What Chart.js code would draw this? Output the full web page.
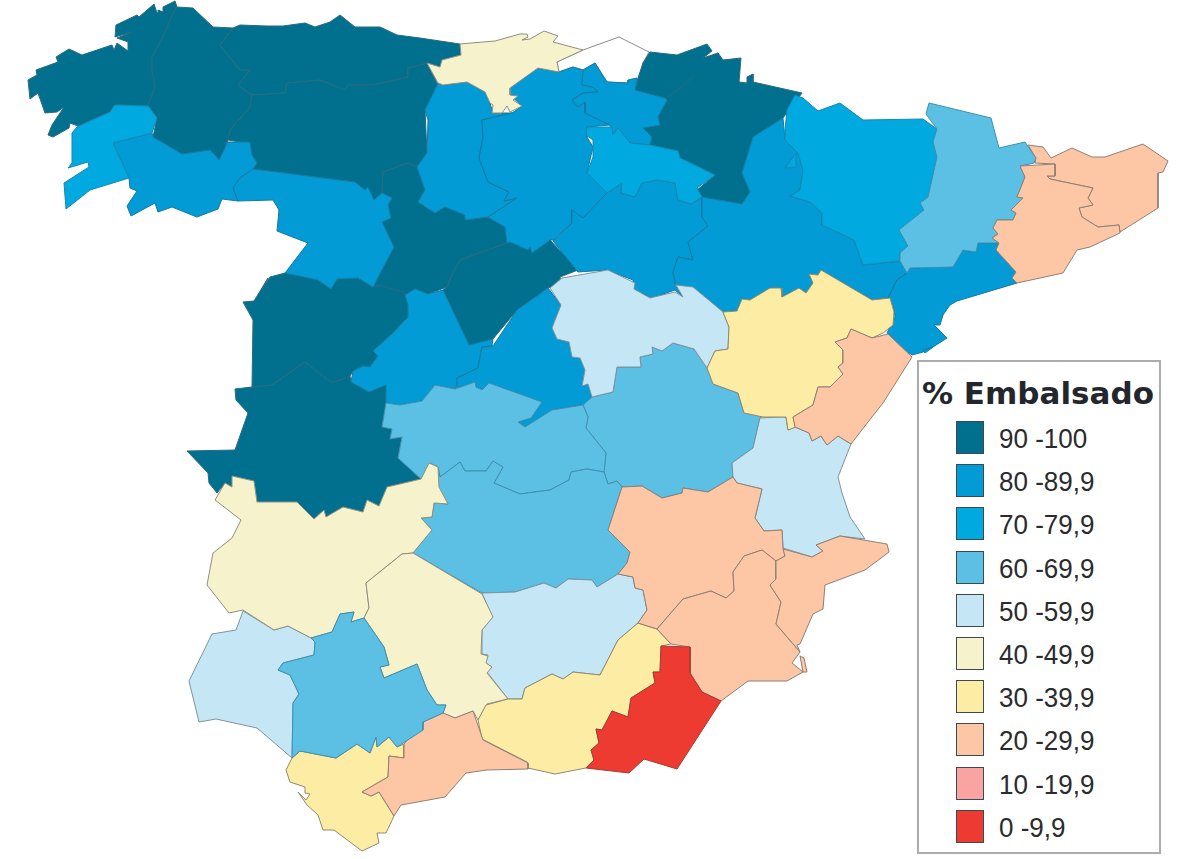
<!DOCTYPE html>
<html>
<head>
<meta charset="utf-8">
<title>% Embalsado</title>
<script src="https://cdn.jsdelivr.net/npm/chart.js@4/dist/chart.umd.min.js"></script>
<style>
  html, body { margin: 0; background: #fff; }
  #wrap { position: relative; width: 1200px; height: 859px; overflow: hidden; }
  #legend { position: absolute; left: 917px; top: 360px; width: 240px; height: 490px; border: 2px solid #a9adaf; background: #fff; }
  #legend h1 { position: absolute; left: 3px; top: 13px; margin: 0; white-space: nowrap; font: bold 31px "DejaVu Sans"; color: #23272d; }
  #legend .box { position: absolute; left: 37px; width: 26px; height: 31px; border: 1px solid #3c4a50; }
  #legend .txt { position: absolute; left: 80px; white-space: nowrap; font: 26px "Liberation Sans"; color: #2b2b2d; transform: scaleY(1.06); transform-origin: left center; }
</style>
</head>
<body>
<div id="wrap">
  <canvas id="map"></canvas>
  <div id="legend"><h1>% Embalsado</h1></div>
</div>
<script>
// leyenda
const ranges = ["90 -100","80 -89,9","70 -79,9","60 -69,9","50 -59,9","40 -49,9","30 -39,9","20 -29,9","10 -19,9","0 -9,9"];
const colors = ["#01708f","#029bd6","#00a9e0","#5cc0e5","#c5e6f4","#f5f2cc","#fdeca3","#fdc6a4","#f9a4a2","#ee3b31"];
const strokes = ["#2a6a80","#14799f","#1887ad","#3f8fae","#7f939c","#8f8f80","#8f8a70","#8f7f74","#8f6f6f","#a53a30"];

// provincias, contorno
const coruna = [[28,80],[37,75],[36,70],[58,62],[56,57],[69,49],[82,55],[112,45],[114,50],[117,43],[128,51],[128,42],[117,38],[132,32],[115,37],[116,25],[137,15],[139,17],[154,4],[157,13],[158,10],[163,12],[163,7],[175,1],[177,7],[172,15],[163,37],[152,57],[152,70],[155,87],[148,106],[115,105],[110,112],[78,126],[70,123],[69,128],[53,137],[48,135],[52,125],[64,107],[57,112],[45,113],[38,93],[30,99]];
const lugo = [[177,7],[193,8],[213,27],[233,28],[220,45],[240,70],[250,70],[238,85],[252,95],[250,107],[230,130],[228,140],[220,160],[210,150],[182,154],[153,137],[157,118],[148,106],[155,87],[152,70],[152,57],[163,37],[172,15]];
const asturias = [[233,28],[240,25],[267,26],[283,26],[305,23],[315,27],[330,22],[340,15],[355,27],[380,27],[397,35],[420,38],[460,44],[461,55],[442,60],[440,67],[427,63],[420,65],[408,68],[408,77],[373,85],[348,85],[345,90],[320,80],[287,83],[285,93],[252,95],[238,85],[250,70],[240,70],[220,45]];
const leon = [[252,95],[285,93],[287,83],[320,80],[345,90],[348,85],[373,85],[408,77],[408,68],[420,65],[427,63],[438,85],[425,110],[427,153],[417,167],[408,163],[383,172],[382,193],[374,200],[355,182],[253,169],[257,163],[252,155],[240,142],[228,140],[230,130],[250,107]];
const valladolid = [[394,247],[382,222],[391,218],[388,205],[392,198],[382,193],[383,172],[408,163],[417,167],[425,190],[418,202],[435,213],[445,207],[465,215],[467,220],[487,217],[505,227],[507,243],[460,260],[453,273],[447,287],[428,294],[415,289],[405,295],[380,285],[373,287]];
const segovia = [[507,243],[510,242],[528,250],[530,247],[532,253],[550,240],[578,270],[560,277],[561,283],[548,288],[517,310],[493,339],[469,345],[443,290],[447,287],[453,273],[460,260]];
const salamanca = [[262,289],[270,277],[285,273],[318,280],[331,289],[337,279],[358,278],[373,287],[380,285],[403,292],[405,295],[408,305],[408,317],[393,333],[373,351],[378,356],[370,367],[363,366],[353,371],[350,376],[332,383],[305,362],[272,385],[252,387],[253,320],[243,302],[254,301],[268,278]];
const caceres = [[252,387],[272,385],[305,362],[332,383],[350,376],[351,382],[369,392],[386,385],[386,403],[382,427],[392,429],[390,439],[402,437],[398,458],[421,479],[387,487],[379,506],[367,500],[363,512],[343,507],[326,517],[324,510],[314,519],[297,502],[257,502],[254,481],[232,476],[232,487],[225,483],[217,493],[209,483],[208,473],[187,451],[235,450],[248,413],[236,400],[235,389]];
const navarra = [[650,52],[677,55],[707,44],[712,51],[703,58],[718,53],[723,60],[741,58],[739,82],[747,83],[747,77],[753,74],[753,82],[802,93],[783,118],[753,137],[742,173],[750,192],[742,204],[702,197],[697,190],[715,175],[680,158],[678,151],[650,145],[633,144],[652,138],[643,128],[660,125],[658,117],[667,100],[635,90],[638,78],[643,63]];
const navarraLinde = [[667,98],[680,88],[695,75]];
const pontevedra = [[115,105],[148,106],[157,118],[152,133],[113,143],[129,178],[90,190],[66,209],[64,183],[89,167],[88,162],[68,168],[72,163],[72,140],[72,133],[77,127],[110,112]];
const ourense = [[113,143],[152,133],[153,137],[182,154],[210,150],[219,160],[228,142],[240,142],[250,142],[252,155],[257,163],[253,169],[240,178],[233,188],[238,201],[222,199],[218,209],[197,217],[172,207],[158,212],[155,203],[131,216],[127,206],[137,191],[130,188],[129,178]];
const zamora = [[253,169],[355,182],[365,190],[368,187],[374,200],[382,193],[392,198],[388,205],[391,218],[382,222],[394,247],[373,287],[358,278],[337,279],[331,289],[318,280],[285,273],[308,243],[277,231],[279,210],[273,200],[238,201],[233,188],[240,178]];
const palencia = [[443,85],[467,82],[485,92],[490,103],[493,113],[512,113],[482,120],[483,137],[479,158],[488,182],[509,192],[504,201],[517,198],[488,217],[465,220],[465,215],[445,207],[435,213],[418,202],[425,190],[417,167],[427,153],[428,120],[425,110],[438,83]];
const burgos = [[510,88],[538,68],[559,72],[573,67],[583,70],[582,85],[593,87],[598,92],[583,93],[572,100],[578,107],[585,102],[585,113],[610,125],[587,127],[587,137],[593,147],[587,173],[607,193],[583,218],[572,210],[572,223],[553,240],[550,240],[532,253],[530,247],[528,250],[510,242],[507,243],[505,227],[488,217],[517,198],[504,201],[509,192],[488,182],[479,158],[483,137],[482,120],[512,113],[522,106],[510,95]];
const alava = [[583,70],[582,85],[593,87],[598,92],[583,93],[572,100],[578,107],[585,102],[585,113],[610,125],[613,135],[618,128],[630,143],[650,145],[652,137],[643,128],[660,125],[658,117],[667,100],[665,98],[635,90],[637,78],[628,80],[628,83],[607,82],[595,63]];
const rioja = [[587,127],[612,127],[613,135],[618,128],[630,143],[650,145],[678,151],[680,158],[715,175],[697,188],[702,197],[691,204],[678,200],[675,183],[657,180],[642,183],[635,197],[621,193],[622,183],[607,193],[587,173],[593,157],[593,140],[586,135]];
const soria = [[607,193],[622,183],[621,193],[635,197],[642,183],[657,180],[675,183],[678,200],[691,204],[702,197],[702,217],[708,226],[688,242],[693,260],[678,257],[673,272],[675,285],[683,297],[675,290],[652,298],[635,290],[633,280],[607,270],[578,272],[553,241],[572,223],[572,210],[583,218]];
const zaragoza = [[783,118],[785,140],[798,153],[803,170],[800,190],[790,196],[810,202],[822,213],[822,225],[854,240],[863,265],[900,261],[907,273],[897,280],[888,298],[873,300],[821,270],[818,275],[809,274],[813,283],[806,293],[799,288],[782,297],[781,288],[770,288],[750,300],[742,299],[737,311],[723,312],[693,287],[676,285],[673,272],[678,257],[693,260],[688,242],[708,226],[702,217],[702,197],[742,204],[750,192],[742,173],[753,137]];
const madrid = [[415,289],[428,294],[443,290],[469,345],[493,339],[492,346],[482,347],[478,368],[457,378],[456,389],[435,385],[422,401],[400,405],[386,403],[386,385],[369,392],[351,382],[353,371],[363,366],[370,367],[378,356],[373,351],[393,333],[408,317],[408,305],[405,295]];
const madridEste = [[548,288],[561,305],[552,328],[557,339],[569,342],[572,357],[580,358],[585,370],[582,385],[588,383],[593,403],[552,410],[525,427],[518,422],[531,418],[542,402],[489,383],[482,390],[476,387],[475,382],[457,388],[457,378],[478,368],[482,347],[493,346],[517,310]];
const tarragona = [[907,273],[910,268],[953,267],[963,250],[976,252],[978,243],[999,243],[996,250],[1016,272],[1012,278],[1017,283],[957,301],[950,305],[943,315],[940,325],[934,325],[947,338],[933,347],[923,352],[912,355],[895,343],[887,333],[895,317],[893,305],[888,298],[897,280]];
const tarragonaIsla = [[923,350],[933,347],[925,353]];
const huesca = [[785,130],[787,110],[795,95],[803,98],[818,111],[840,103],[863,120],[923,119],[937,129],[933,142],[937,157],[928,197],[920,203],[924,210],[899,230],[908,246],[900,253],[900,261],[863,265],[854,240],[822,225],[822,213],[810,202],[790,196],[800,190],[803,170],[798,153],[785,140]];
const huescaPico = [[796,153],[785,168],[796,167]];
const lleida = [[929,103],[991,118],[999,148],[1025,142],[1036,158],[1034,163],[1020,166],[1025,177],[1017,197],[1023,198],[1011,210],[1016,213],[1013,220],[997,220],[993,228],[998,234],[992,238],[999,243],[978,243],[976,252],[963,250],[953,267],[910,268],[907,273],[900,261],[900,253],[908,246],[899,230],[924,210],[920,203],[928,197],[937,157],[933,142],[937,129],[926,114]];
const cuenca = [[617,367],[641,367],[640,357],[653,354],[652,347],[662,351],[673,343],[694,349],[707,368],[713,384],[738,393],[744,413],[763,416],[760,418],[753,448],[732,463],[733,477],[708,492],[683,488],[682,493],[662,498],[642,486],[622,487],[617,481],[608,484],[604,472],[606,453],[586,428],[588,417],[583,405],[592,397],[613,392]];
const toledo = [[386,403],[400,405],[422,401],[435,385],[455,389],[475,382],[476,387],[482,390],[489,383],[542,402],[531,418],[518,422],[525,427],[552,410],[583,405],[588,417],[586,428],[606,453],[604,472],[587,469],[571,472],[569,480],[550,490],[520,494],[494,483],[503,467],[493,461],[486,471],[465,471],[460,462],[440,477],[438,467],[430,463],[421,479],[398,458],[402,437],[390,439],[392,429],[382,427]];
const ciudadReal = [[440,477],[460,462],[465,471],[486,471],[493,461],[503,467],[494,483],[520,494],[550,490],[569,480],[571,472],[587,469],[604,472],[608,484],[617,481],[622,487],[608,530],[630,552],[627,563],[618,574],[597,587],[592,580],[568,579],[556,588],[544,583],[515,592],[482,593],[413,553],[432,530],[421,518],[432,517],[434,503],[448,504],[438,487],[438,467]];
const guadalajara = [[550,288],[562,278],[608,270],[635,283],[634,289],[650,298],[675,292],[683,297],[676,285],[693,287],[723,312],[729,327],[728,349],[715,351],[707,368],[694,349],[673,343],[662,351],[652,347],[653,354],[640,357],[641,367],[617,367],[613,392],[592,397],[588,384],[582,386],[585,370],[580,358],[572,357],[569,342],[557,339],[552,328],[561,305]];
const valencia = [[760,418],[780,417],[786,417],[788,430],[795,427],[809,433],[812,441],[821,436],[827,445],[838,436],[851,444],[838,477],[842,493],[850,517],[865,539],[840,536],[816,545],[823,551],[812,557],[783,548],[782,530],[764,531],[755,518],[762,489],[737,483],[733,477],[732,463],[753,448]];
const jaen = [[482,593],[515,592],[544,583],[556,588],[568,579],[592,580],[597,587],[618,574],[633,577],[635,588],[643,590],[647,610],[638,623],[618,640],[600,675],[573,672],[563,679],[552,674],[525,688],[522,699],[508,699],[487,672],[492,667],[485,663],[488,655],[482,654],[482,630],[492,617]];
const huelva = [[243,611],[274,630],[288,626],[311,638],[315,642],[314,655],[283,663],[278,670],[290,675],[299,694],[293,703],[292,758],[257,728],[216,719],[199,722],[189,681],[212,634],[236,630]];
const cantabria = [[460,44],[495,41],[520,34],[527,34],[528,37],[522,40],[530,39],[544,31],[558,36],[553,42],[583,50],[557,62],[559,72],[538,68],[510,88],[510,95],[518,96],[513,100],[522,106],[510,112],[507,106],[502,113],[492,113],[493,105],[490,103],[485,92],[467,82],[443,85],[438,83],[427,63],[440,67],[442,60],[461,55]];
const badajoz = [[421,479],[429,463],[438,467],[439,487],[448,504],[434,503],[432,517],[421,518],[432,530],[413,553],[402,554],[366,583],[369,608],[364,618],[351,622],[354,612],[340,614],[332,632],[311,638],[288,626],[274,630],[243,610],[229,613],[207,585],[213,553],[232,538],[241,520],[215,500],[225,483],[232,487],[232,476],[254,481],[257,502],[297,502],[314,519],[324,510],[326,517],[343,507],[363,512],[367,500],[379,506],[387,487]];
const cordoba = [[413,553],[482,594],[493,617],[482,630],[481,654],[488,656],[486,663],[492,667],[487,673],[508,699],[487,704],[478,720],[473,711],[455,718],[443,713],[446,705],[437,705],[427,690],[417,664],[384,678],[380,667],[389,665],[384,647],[364,618],[369,608],[366,583],[402,554]];
const sevilla = [[311,638],[332,632],[340,614],[354,612],[351,622],[364,618],[384,647],[389,665],[380,667],[384,678],[417,664],[427,690],[437,705],[446,705],[443,713],[423,722],[423,730],[397,747],[389,737],[377,747],[376,737],[370,753],[357,744],[336,758],[300,751],[292,758],[293,703],[299,694],[290,675],[278,670],[283,663],[314,655],[315,642]];
const cadiz = [[292,758],[300,751],[336,758],[357,744],[370,753],[376,737],[377,747],[389,737],[397,747],[404,744],[404,758],[389,756],[388,777],[362,792],[371,796],[379,792],[394,816],[386,833],[377,833],[379,843],[362,851],[334,830],[323,830],[318,815],[307,805],[298,792],[306,800],[310,794],[305,793],[305,787],[290,782],[286,770]];
const malaga = [[423,722],[443,713],[455,718],[473,711],[483,740],[528,763],[528,769],[487,770],[466,773],[445,797],[401,805],[394,816],[379,792],[371,796],[362,792],[388,777],[389,756],[404,758],[404,744]];
const granada = [[638,623],[657,629],[671,644],[661,646],[660,672],[653,672],[655,683],[631,698],[628,717],[612,711],[602,730],[596,729],[599,743],[591,750],[594,760],[586,768],[555,774],[528,768],[527,762],[482,739],[478,720],[486,705],[508,699],[522,699],[525,688],[552,674],[563,679],[573,672],[600,675],[618,640]];
const almeria = [[661,646],[690,647],[690,673],[702,692],[721,701],[677,769],[644,759],[629,773],[586,768],[594,760],[591,750],[599,743],[596,729],[602,730],[612,711],[628,717],[631,698],[655,683],[653,672],[660,672]];
const albacete = [[622,487],[642,486],[662,498],[682,493],[683,488],[708,492],[733,477],[737,483],[762,489],[755,518],[764,531],[782,530],[783,548],[785,556],[776,561],[762,550],[744,556],[733,572],[734,591],[726,598],[711,591],[683,599],[657,629],[638,623],[647,610],[643,590],[635,588],[633,577],[618,574],[627,563],[630,552],[608,530]];
const murcia = [[671,644],[657,629],[683,599],[711,591],[726,598],[734,591],[733,572],[744,556],[762,550],[776,561],[776,579],[770,585],[781,602],[776,624],[800,652],[792,663],[803,672],[787,681],[748,681],[721,701],[702,692],[690,673],[690,647]];
const alicante = [[776,561],[785,556],[783,549],[812,557],[823,551],[816,545],[840,536],[887,544],[889,552],[865,570],[825,585],[823,609],[813,614],[800,644],[797,645],[800,652],[776,624],[781,602],[770,585],[776,579]];
const marMenor = [[800,656],[804,658],[807,672],[803,672]];
const castellon = [[851,329],[872,338],[888,334],[912,357],[883,403],[868,422],[851,444],[838,436],[827,445],[821,436],[812,441],[809,433],[795,427],[793,417],[813,405],[818,387],[830,387],[843,374],[838,367],[843,363],[843,350],[835,342],[847,338]];
const teruel = [[723,312],[737,311],[742,299],[750,300],[770,288],[781,288],[782,297],[799,288],[806,293],[813,283],[809,274],[818,275],[821,270],[872,300],[890,298],[894,312],[893,325],[883,333],[872,338],[851,329],[847,338],[835,342],[843,350],[843,363],[838,367],[843,374],[830,387],[818,387],[813,405],[793,417],[796,427],[788,430],[786,417],[763,417],[744,413],[738,393],[713,384],[707,368],[715,351],[728,349],[729,327]];
const girona = [[1028,145],[1043,147],[1051,158],[1072,148],[1092,157],[1105,157],[1143,144],[1168,161],[1163,172],[1158,173],[1158,208],[1120,232],[1119,225],[1098,227],[1082,217],[1079,208],[1093,205],[1088,198],[1093,188],[1050,179],[1047,176],[1055,176],[1055,164],[1035,163],[1036,158]];
const barcelona = [[1020,166],[1055,164],[1055,176],[1047,176],[1050,179],[1093,188],[1088,198],[1093,205],[1079,208],[1082,217],[1098,227],[1119,225],[1120,233],[1105,240],[1090,247],[1077,250],[1063,273],[1017,283],[1012,278],[1016,272],[996,250],[999,243],[992,238],[998,234],[993,228],[997,220],[1013,220],[1016,213],[1011,210],[1023,198],[1017,197],[1025,177]];
const bizkaia = [[557,62],[583,50],[619,37],[649,52],[643,63],[640,83],[628,83],[607,82],[595,63],[583,70],[573,67],[559,72]];

// [contorno, indice de rango]; de abajo arriba en el orden de dibujo
const provinces = [
  [bizkaia, -1],
  [coruna, 0], [lugo, 0], [asturias, 0], [leon, 0], [valladolid, 0], [segovia, 0], [salamanca, 0], [caceres, 0], [navarra, 0],
  [palencia, 1], [burgos, 1], [soria, 1], [zaragoza, 1], [ourense, 1], [zamora, 1], [alava, 1], [madrid, 1], [madridEste, 1], [tarragona, 1], [tarragonaIsla, 1],
  [pontevedra, 2], [rioja, 2], [huesca, 2], [huescaPico, 2],
  [lleida, 3], [cuenca, 3], [toledo, 3], [ciudadReal, 3],
  [guadalajara, 4], [valencia, 4], [jaen, 4], [huelva, 4],
  [cantabria, 5], [badajoz, 5], [cordoba, 5],
  [teruel, 6], [granada, 6], [cadiz, 6],
  [castellon, 7], [albacete, 7], [murcia, 7], [alicante, 7], [marMenor, 7], [malaga, 7], [girona, 7], [barcelona, 7],
  [sevilla, 3],
  [almeria, 9]
];

const toXY = p => ({x: p[0], y: p[1]});
const datasets = provinces.map(([pts, r]) => ({
  data: pts.concat([pts[0]]).map(toXY),
  showLine: true,
  fill: "shape",
  backgroundColor: r < 0 ? "#ffffff" : colors[r],
  borderColor: r < 0 ? "#8c8c8c" : strokes[r],
  borderWidth: 1,
  pointRadius: 0,
  tension: 0
}));
datasets.push({
  data: navarraLinde.map(toXY),
  showLine: true,
  fill: false,
  borderColor: strokes[0],
  borderWidth: 1,
  pointRadius: 0
});
// el dataset 0 se pinta encima de todo
datasets.reverse();

const ctx = document.getElementById("map").getContext("2d");
new Chart(ctx, {
  type: "scatter",
  data: { datasets: datasets },
  options: {
    responsive: true,
    maintainAspectRatio: false,
    animation: false,
    layout: { padding: 0 },
    plugins: { legend: { display: false }, tooltip: { enabled: false } },
    scales: {
      x: { type: "linear", min: 0, max: 1200, display: false },
      y: { type: "linear", min: 0, max: 859, reverse: true, display: false }
    }
  }
});

const legend = document.getElementById("legend");
ranges.forEach((label, i) => {
  const top = 59 + i * 43.2;
  const box = document.createElement("div");
  box.className = "box";
  box.style.top = top + "px";
  box.style.background = colors[i];
  legend.appendChild(box);
  const txt = document.createElement("div");
  txt.className = "txt";
  txt.textContent = label;
  txt.style.top = (top + 2) + "px";
  legend.appendChild(txt);
});
</script>
</body>
</html>
